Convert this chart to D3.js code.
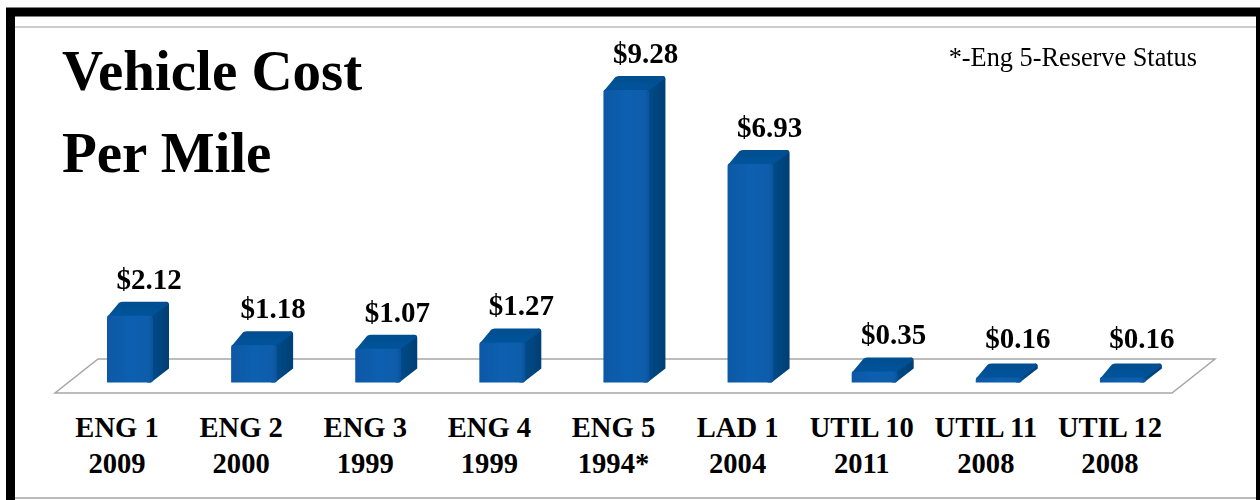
<!DOCTYPE html>
<html>
<head>
    <title>Vehicle Cost Per Mile</title>
    <script src="https://d3js.org/d3.v7.min.js"></script>
    <style>
        html, body { margin: 0; padding: 0; background: #fff; }
        svg { display: block; font-family: "Liberation Serif", serif; }
    </style>
</head>
<body>
    <div id="chart"></div>

    <script>
        const categories = ["ENG 1", "ENG 2", "ENG 3", "ENG 4", "ENG 5", "LAD 1", "UTIL 10", "UTIL 11", "UTIL 12"];
        const years = ["2009", "2000", "1999", "1999", "1994*", "2004", "2011", "2008", "2008"];
        const values = [2.12, 1.18, 1.07, 1.27, 9.28, 6.93, 0.35, 0.16, 0.16];
        const titleLines = ["Vehicle Cost", "Per Mile"];
        const note = "*-Eng 5-Reserve Status";

        const width = 1260;
        const height = 500;
        const baseY = 382.5;
        const depthX = 16;
        const depthY = 14;
        const barWidth = 46;
        const barOffset = 52;

        const svg = d3.select("#chart").append("svg")
            .attr("width", width)
            .attr("height", height);

        const defs = svg.append("defs");

        function gradient(id, x2, y2, stops) {
            const g = defs.append("linearGradient").attr("id", id)
                .attr("x1", 0).attr("y1", 0).attr("x2", x2).attr("y2", y2);
            stops.forEach(s => g.append("stop").attr("offset", s[0]).attr("stop-color", s[1]));
        }
        gradient("frontFill", 1, 0, [[0, "#0a58a6"], [0.5, "#0b5fb0"], [0.9, "#0b5dab"], [1, "#0a5298"]]);
        gradient("topFill", 0, 1, [[0, "#004e8f"], [1, "#02549c"]]);
        gradient("sideFill", 1, 0, [[0, "#004e8e"], [1, "#003f74"]]);

        defs.append("filter").attr("id", "soft")
            .append("feGaussianBlur").attr("stdDeviation", 0.5);

        // frame
        svg.append("rect").attr("x", 10.5).attr("y", 12).attr("width", 1260).attr("height", 500)
            .attr("fill", "none").attr("stroke", "#000").attr("stroke-width", 9);
        svg.append("rect").attr("x", 1256).attr("y", 8).attr("width", 4).attr("height", 492).attr("fill", "#000");
        svg.append("line").attr("x1", 15).attr("x2", 1256).attr("y1", 27).attr("y2", 27)
            .attr("stroke", "#999").attr("stroke-width", 1);
        svg.append("line").attr("x1", 15).attr("x2", 1256).attr("y1", 498).attr("y2", 498)
            .attr("stroke", "#777").attr("stroke-width", 1);

        const x = d3.scaleBand()
            .domain(categories)
            .range([55, 1172]);

        const y = d3.scaleLinear()
            .domain([0, 9.28])
            .range([baseY, 90]);

        // floor
        const [floorL, floorR] = x.range();
        svg.append("path")
            .attr("d", d3.line()([[floorL, 393], [floorR, 393], [floorR + 43, 359], [floorL + 43, 359]]) + "Z")
            .attr("fill", "#fff")
            .attr("stroke", "#a6a6a6")
            .attr("stroke-width", 1.5);

        const bars = svg.append("g").attr("filter", "url(#soft)")
            .selectAll("g")
            .data(categories)
            .enter().append("g")
            .attr("transform", d => "translate(" + (x(d) + barOffset) + ",0)");

        function sidePath(top) {
            const r = Math.min(3, (baseY - top) / 2);
            const p = d3.path();
            p.moveTo(barWidth - 6, baseY);
            p.lineTo(barWidth - 2, baseY);
            p.lineTo(barWidth + depthX, baseY - depthY);
            p.lineTo(barWidth + depthX, top - depthY + r);
            p.quadraticCurveTo(barWidth + depthX, top - depthY, barWidth + depthX - r, top - depthY);
            p.lineTo(barWidth - 4, top);
            p.closePath();
            return p.toString();
        }

        function topPath(top) {
            const p = d3.path();
            p.moveTo(0, top + 2);
            p.quadraticCurveTo(0, top, 2, top - 1);
            p.lineTo(depthX - 4, top - depthY + 1);
            p.quadraticCurveTo(depthX - 2, top - depthY, depthX, top - depthY);
            p.lineTo(barWidth + depthX - 3, top - depthY);
            p.quadraticCurveTo(barWidth + depthX, top - depthY, barWidth + depthX - 1, top - depthY + 3);
            p.lineTo(barWidth - 2, top + 1);
            p.quadraticCurveTo(barWidth - 4, top + 2, barWidth - 6, top + 2);
            p.closePath();
            return p.toString();
        }

        function frontPath(top) {
            const r = Math.min(3, (baseY - top) / 2);
            const p = d3.path();
            p.moveTo(0, baseY);
            p.lineTo(0, top + r);
            p.quadraticCurveTo(0, top, r, top);
            p.lineTo(barWidth - r, top);
            p.quadraticCurveTo(barWidth, top, barWidth, top + r);
            p.lineTo(barWidth, baseY - r);
            p.quadraticCurveTo(barWidth, baseY, barWidth - r, baseY);
            p.closePath();
            return p.toString();
        }

        bars.append("path")
            .attr("d", (d, i) => sidePath(y(values[i])))
            .attr("fill", "url(#sideFill)");
        bars.append("path")
            .attr("d", (d, i) => topPath(y(values[i])))
            .attr("fill", "url(#topFill)");
        bars.append("path")
            .attr("d", (d, i) => frontPath(y(values[i])))
            .attr("fill", "url(#frontFill)");

        // value labels
        svg.append("g").selectAll("text")
            .data(categories)
            .enter().append("text")
            .attr("x", d => x(d) + x.bandwidth() / 2 + 32)
            .attr("y", (d, i) => Math.min(y(values[i]) - depthY - 13, 348))
            .attr("text-anchor", "middle")
            .attr("font-size", 29)
            .attr("font-weight", "bold")
            .attr("fill", "#000")
            .text((d, i) => "$" + values[i].toFixed(2));

        // category axis, two lines per tick
        const axis = svg.append("g")
            .attr("transform", "translate(0,393)")
            .call(d3.axisBottom(x).tickSize(0).tickPadding(0));
        axis.select(".domain").remove();
        axis.selectAll(".tick text")
            .attr("y", 0)
            .attr("dy", null)
            .attr("font-family", "Liberation Serif, serif")
            .attr("font-size", 28.6)
            .attr("font-weight", "bold")
            .attr("fill", "#000")
            .text(null)
            .each(function(d, i) {
                const t = d3.select(this);
                t.append("tspan").attr("x", 0).attr("y", 44).text(d);
                t.append("tspan").attr("x", 0).attr("y", 80).text(years[i]);
            });

        // title and note
        svg.append("g").selectAll("text")
            .data(titleLines)
            .enter().append("text")
            .attr("x", 62)
            .attr("y", (d, i) => 90 + i * 82)
            .attr("font-size", 57)
            .attr("font-weight", "bold")
            .attr("fill", "#000")
            .text(d => d);

        svg.append("text")
            .attr("x", 1197)
            .attr("y", 66)
            .attr("text-anchor", "end")
            .attr("font-size", 26.3)
            .attr("fill", "#000")
            .text(note);
    </script>
</body>
</html>
